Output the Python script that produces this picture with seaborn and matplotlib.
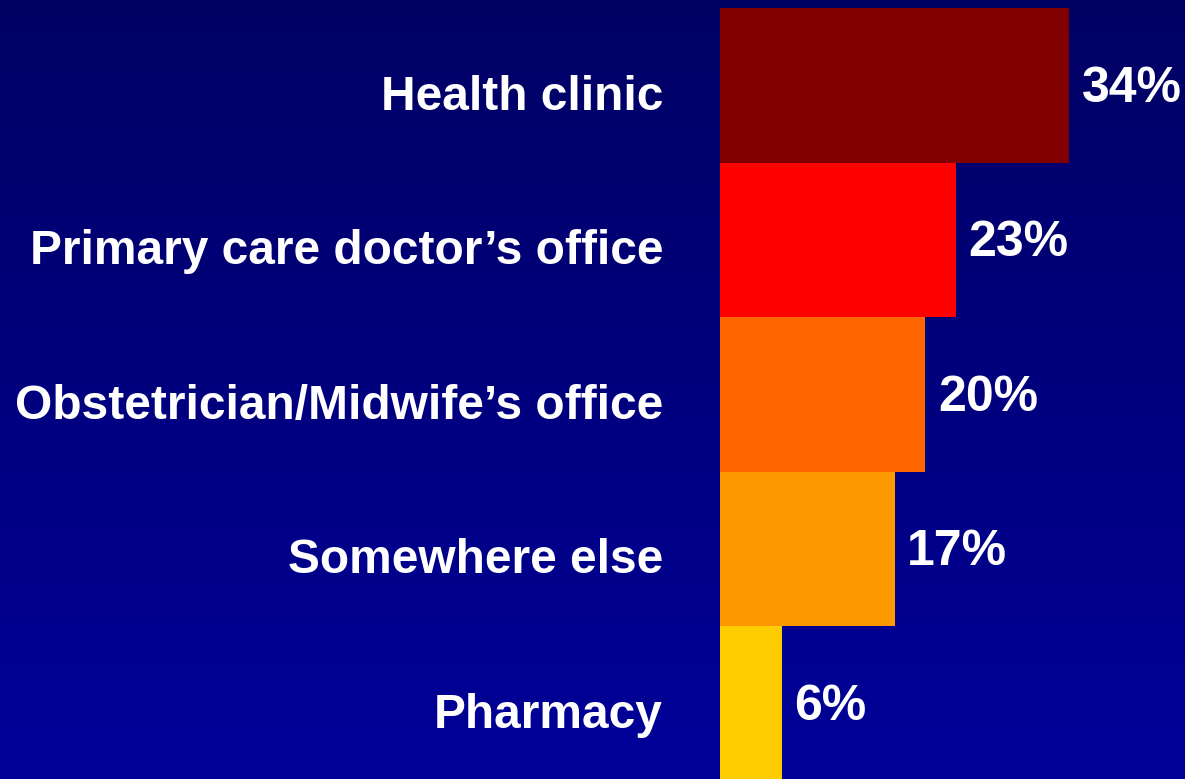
import numpy as np
import pandas as pd
import matplotlib
matplotlib.use("Agg")
import matplotlib.pyplot as plt
import seaborn as sns
from matplotlib.colors import LinearSegmentedColormap

places = ["Health clinic", "Primary care doctor\u2019s office", "Obstetrician/Midwife\u2019s office",
          "Somewhere else", "Pharmacy"]
shares = [34, 23, 20, 17, 6]
bar_colors = ["#800000", "#FF0000", "#FF6600", "#FF9900", "#FFCC00"]

df = pd.DataFrame({"place": places, "share": shares})

sns.set_theme(style="white")
plt.rcParams["font.family"] = ["Liberation Sans", "DejaVu Sans"]

fig = plt.figure(figsize=(11.85, 7.79), dpi=100)

# gradient background
bg = fig.add_axes([0, 0, 1, 1], zorder=0)
grad = np.linspace(0, 1, 256).reshape(-1, 1)
cmap = LinearSegmentedColormap.from_list("bg", ["#000063", "#000099"])
bg.imshow(grad, aspect="auto", cmap=cmap, extent=[0, 1, 0, 1], origin="upper")
bg.set_axis_off()

ax = fig.add_axes([720 / 1185, 0, 1 - 720 / 1185, 1], zorder=1)
ax.patch.set_alpha(0)
sns.barplot(data=df, x="share", y="place", hue="place", palette=bar_colors,
            width=1.0, legend=False, ax=ax, saturation=1, linewidth=0)

ax.set_xlim(0, 465 / 10.27)
ax.set_ylim(4.49, -0.554)
ax.set_xlabel("")
ax.set_ylabel("")
ax.set_xticks([])
ax.set_yticks([])
for s in ax.spines.values():
    s.set_visible(False)

# category labels, set a little below the bar centres as in the original
for i, name in enumerate(places):
    ax.annotate(name, xy=(0, i), xytext=(-41, -5), textcoords="offset points",
                va="center_baseline", ha="right", color="white", fontsize=34.5,
                fontweight="bold", annotation_clip=False)

for i, v in enumerate(shares):
    ax.annotate(f"{v}%", xy=(v, i), xytext=(9, -2.5), textcoords="offset points",
                va="center", ha="left", color="white", fontsize=36, fontweight="bold")

fig.savefig("out.png", dpi=100)
